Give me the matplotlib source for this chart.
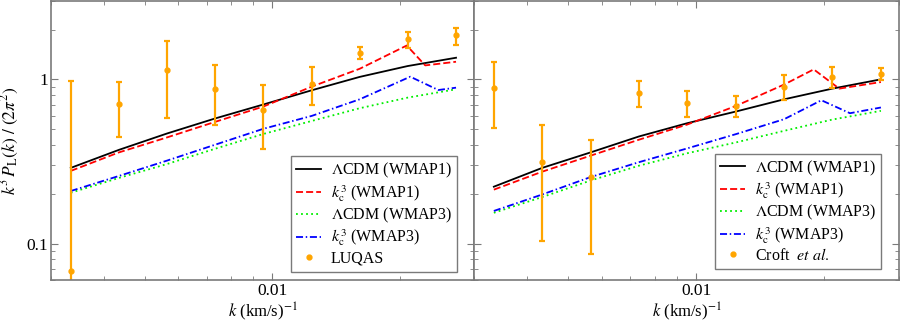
import matplotlib
matplotlib.use('Agg')
import matplotlib.pyplot as plt
from matplotlib.ticker import FuncFormatter, NullFormatter

plt.rcParams['font.family'] = 'serif'
plt.rcParams['font.serif'] = ['Liberation Serif', 'DejaVu Serif']
plt.rcParams['mathtext.fontset'] = 'stix'

# k grid of the data points (km/s)^-1
k_data = [0.00334, 0.00434, 0.00564, 0.00733, 0.00953, 0.0124, 0.0161, 0.0209, 0.0272]

# LUQAS points (left panel)
p_luqas = [0.068, 0.705, 1.14, 0.878, 0.649, 0.942, 1.45, 1.75, 1.85]
p_luqas_hi = [0.977, 0.968, 1.706, 1.221, 0.920, 1.182, 1.578, 1.935, 2.066]
p_luqas_lo = [0.01, 0.447, 0.578, 0.528, 0.377, 0.696, 1.322, 1.556, 1.614]

# Croft et al. points (right panel)
p_croft = [0.891, 0.315, 0.255, 0.826, 0.722, 0.689, 0.903, 1.038, 1.072]
p_croft_hi = [1.273, 0.528, 0.427, 0.982, 0.849, 0.792, 1.062, 1.182, 1.178]
p_croft_lo = [0.507, 0.1033, 0.0859, 0.674, 0.591, 0.594, 0.749, 0.886, 0.990]

# model curves, left panel
lcdm1_L = [0.289, 0.372, 0.468, 0.578, 0.703, 0.858, 1.035, 1.205, 1.354]
lcdm3_L = [0.204, 0.251, 0.305, 0.378, 0.465, 0.558, 0.667, 0.774, 0.870]
k_kc1_L = [0.00334, 0.00434, 0.00564, 0.00733, 0.00953, 0.0124, 0.0161, 0.0208, 0.0230, 0.0272]
kc1_L = [0.277, 0.359, 0.443, 0.551, 0.683, 0.903, 1.16, 1.607, 1.216, 1.28]
k_kc3_L = [0.00334, 0.00434, 0.00564, 0.00733, 0.00953, 0.0124, 0.0161, 0.0212, 0.0247, 0.0272]
kc3_L = [0.209, 0.258, 0.320, 0.40, 0.50, 0.599, 0.756, 1.038, 0.861, 0.89]

# model curves, right panel
lcdm1_R = [0.222, 0.289, 0.359, 0.449, 0.541, 0.637, 0.756, 0.878, 1.0]
lcdm3_R = [0.154, 0.192, 0.242, 0.298, 0.355, 0.413, 0.486, 0.569, 0.643]
k_kc1_R = [0.00334, 0.00434, 0.00564, 0.00733, 0.00953, 0.0124, 0.0161, 0.0189, 0.0217, 0.0272]
kc1_R = [0.213, 0.274, 0.343, 0.429, 0.531, 0.689, 0.93, 1.15, 0.878, 0.963]
k_kc3_R = [0.00334, 0.00434, 0.00564, 0.00733, 0.00953, 0.0124, 0.0161, 0.0197, 0.0230, 0.0272]
kc3_R = [0.158, 0.199, 0.254, 0.313, 0.380, 0.464, 0.572, 0.746, 0.622, 0.674]

labels = [r'$\Lambda$CDM (WMAP1)', r'$k_{\rm c}^3$ (WMAP1)',
          r'$\Lambda$CDM (WMAP3)', r'$k_{\rm c}^3$ (WMAP3)']

fig = plt.figure(figsize=(9, 3.22), dpi=100)
ax1 = fig.add_axes([0.0567, 0.1304, 0.470, 0.8665])
ax2 = fig.add_axes([0.5267, 0.1304, 0.4722, 0.8665])

lw = 1.3
orange = '#ffa500'
frame = '#7a7a7a'


def draw(ax, lc1, kk1, kc1, lc3, kk3, kc3, pts, hi, lo, dlabel, anchor):
    ax.plot(k_data, lc1, color='black', lw=lw, label=labels[0])
    ax.plot(kk1, kc1, color='#ff0000', lw=lw, ls=(0, (3.9, 1.7)), label=labels[1])
    ax.plot(k_data, lc3, color='#00ee00', lw=lw, ls=(0, (1, 1.8)), label=labels[2])
    ax.plot(kk3, kc3, color='#0000ff', lw=lw, ls=(0, (3.9, 1.5, 0.8, 1.5)), label=labels[3])
    yerr = [[p - l for p, l in zip(pts, lo)], [h - p for p, h in zip(pts, hi)]]
    ax.errorbar(k_data, pts, yerr=yerr, fmt='o', color=orange, ms=3.5,
                elinewidth=1.6, capsize=2.5, capthick=1.6, label=dlabel)

    ax.set_xscale('log')
    ax.set_yscale('log')
    ax.set_xlim(0.003, 0.03)
    ax.set_ylim(0.06, 3)
    ax.xaxis.set_major_formatter(FuncFormatter(lambda v, _: f'{v:g}'))
    ax.yaxis.set_major_formatter(FuncFormatter(lambda v, _: f'{v:g}'))
    ax.xaxis.set_minor_formatter(NullFormatter())
    ax.yaxis.set_minor_formatter(NullFormatter())
    ax.tick_params(which='both', direction='in', top=True, right=True,
                   color=frame, labelsize=12.5, pad=2)
    ax.tick_params(which='major', length=5)
    ax.tick_params(which='minor', length=3)
    for s in ax.spines.values():
        s.set_color(frame)
        s.set_linewidth(1.2)
    ax.set_xlabel(r'$k$ (km/s)$^{-1}$', fontsize=12, va='top')
    ax.xaxis.set_label_coords(0.5, -0.072)

    h, l = ax.get_legend_handles_labels()
    h[-1] = plt.Line2D([], [], marker='o', ls='none', color=orange, ms=3.5)
    leg = ax.legend(h, l, loc='lower right', bbox_to_anchor=anchor,
                    borderaxespad=0, fontsize=11.5, fancybox=False,
                    framealpha=1, edgecolor=frame, handlelength=1.6,
                    handletextpad=0.6, labelspacing=0.15, borderpad=0.3)
    leg.get_frame().set_linewidth(1.0)


draw(ax1, lcdm1_L, k_kc1_L, kc1_L, lcdm3_L, k_kc3_L, kc3_L,
     p_luqas, p_luqas_hi, p_luqas_lo, 'LUQAS', (0.960, 0.030))
draw(ax2, lcdm1_R, k_kc1_R, kc1_R, lcdm3_R, k_kc3_R, kc3_R,
     p_croft, p_croft_hi, p_croft_lo, r'Croft  $\it{et\ al.}$', (0.958, 0.040))

ax2.tick_params(axis='y', which='both', labelleft=False)
ax1.set_ylabel(r'$k^3\,P_{\rm L}(k)\ /\ (2\pi^2)$', fontsize=12.5)
ax1.yaxis.set_label_coords(-0.07, 0.5)

fig.savefig('out.png', dpi=100)
